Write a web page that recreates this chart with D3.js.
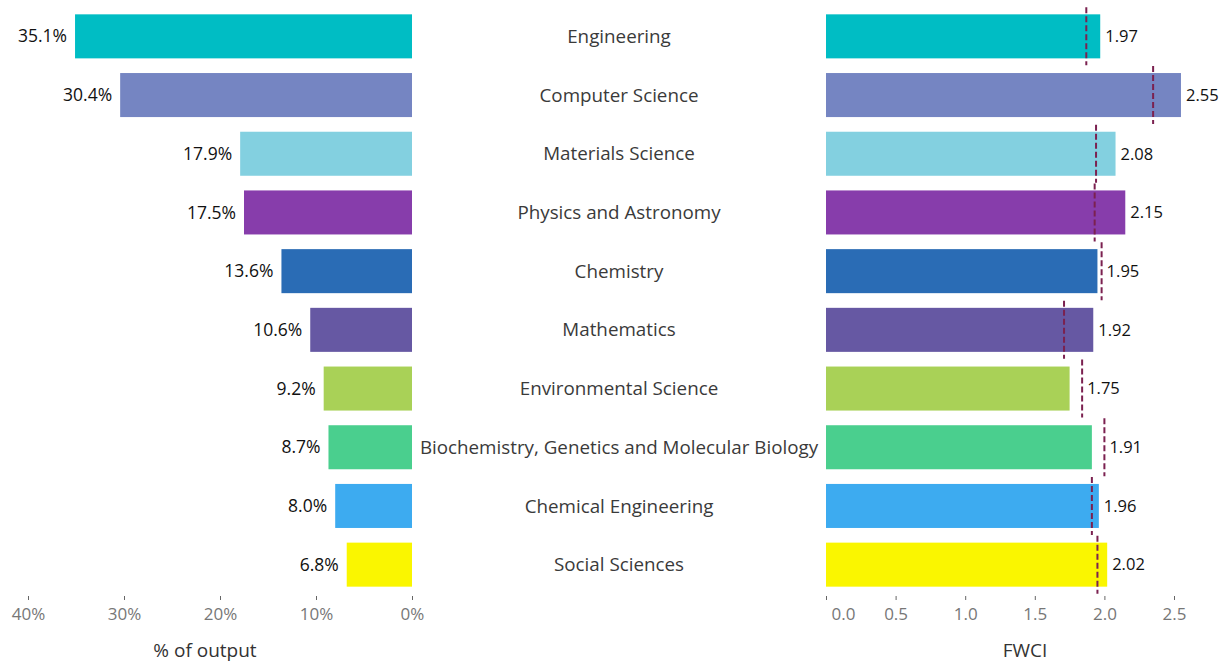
<!DOCTYPE html>
<html>
<head>
<meta charset="utf-8">
<script src="https://cdn.jsdelivr.net/npm/d3@7"></script>
<style>
  body { margin: 0; background: #fff; }
  svg text { font-family: "Open Sans", Lato, sans-serif; }
</style>
</head>
<body>
<div id="chart"></div>
<script>
// data
const categories = ["Engineering", "Computer Science", "Materials Science", "Physics and Astronomy",
  "Chemistry", "Mathematics", "Environmental Science",
  "Biochemistry, Genetics and Molecular Biology", "Chemical Engineering", "Social Sciences"];
const shareOfOutput = [35.1, 30.4, 17.9, 17.5, 13.6, 10.6, 9.2, 8.7, 8.0, 6.8];
const fwci = [1.97, 2.55, 2.08, 2.15, 1.95, 1.92, 1.75, 1.91, 1.96, 2.02];
const benchmark = [1.87, 2.35, 1.94, 1.93, 1.98, 1.71, 1.84, 2.00, 1.91, 1.95];
const colors = ["#00bdc4", "#7585c2", "#83d0e0", "#873dab", "#2a6cb5", "#6658a3",
  "#a9d157", "#4acf8e", "#3dabf0", "#faf600"];
const shareTicks = [0, 10, 20, 30, 40];
const fwciTicks = [0, 0.5, 1, 1.5, 2, 2.5];

const width = 1224, height = 664;

const svg = d3.select("#chart").append("svg")
    .attr("width", width)
    .attr("height", height);

//----------------------------SCALES----------------------------//
const y = d3.scaleBand().domain(categories).range([7, 594]).paddingInner(0.25).paddingOuter(0.125);
const xLeft = d3.scaleLinear().domain([0, 40]).range([412, 28]);
const xRight = d3.scaleLinear().domain([0, 2.5]).range([826, 1174]);

const rows = categories.map(function(c, i) {
    return { cat: c, share: shareOfOutput[i], fwci: fwci[i], bench: benchmark[i], color: colors[i] };
});

//-----------------------------LEFT BARS------------------------//
svg.append("g").selectAll("rect")
    .data(rows).enter().append("rect")
    .attr("x", d => xLeft(d.share))
    .attr("y", d => y(d.cat))
    .attr("width", d => xLeft(0) - xLeft(d.share))
    .attr("height", y.bandwidth())
    .attr("fill", d => d.color);

svg.append("g").selectAll("text")
    .data(rows).enter().append("text")
    .attr("x", d => xLeft(d.share) - 8)
    .attr("y", d => y(d.cat) + y.bandwidth() / 2)
    .attr("dy", "0.35em")
    .attr("text-anchor", "end")
    .attr("font-size", 17.5)
    .attr("fill", "#111")
    .text(d => d.share.toFixed(1) + "%");

//----------------------------CATEGORIES------------------------//
svg.append("g").selectAll("text")
    .data(rows).enter().append("text")
    .attr("x", 619)
    .attr("y", d => y(d.cat) + y.bandwidth() / 2)
    .attr("dy", "0.35em")
    .attr("text-anchor", "middle")
    .attr("font-size", 18.8)
    .attr("fill", "#3a3a3a")
    .text(d => d.cat);

//-----------------------------RIGHT BARS-----------------------//
svg.append("g").selectAll("rect")
    .data(rows).enter().append("rect")
    .attr("x", xRight(0))
    .attr("y", d => y(d.cat))
    .attr("width", d => xRight(d.fwci) - xRight(0))
    .attr("height", y.bandwidth())
    .attr("fill", d => d.color);

svg.append("g").selectAll("line")
    .data(rows).enter().append("line")
    .attr("x1", d => xRight(d.bench))
    .attr("x2", d => xRight(d.bench))
    .attr("y1", d => y(d.cat) - 7)
    .attr("y2", d => y(d.cat) + y.bandwidth() + 7)
    .attr("stroke", "#7b2150")
    .attr("stroke-width", 2)
    .attr("stroke-dasharray", "6,3");

svg.append("g").selectAll("text")
    .data(rows).enter().append("text")
    .attr("x", d => Math.max(xRight(d.fwci), xRight(d.bench)) + 5)
    .attr("y", d => y(d.cat) + y.bandwidth() / 2)
    .attr("dy", "0.35em")
    .attr("font-size", 16.5)
    .attr("fill", "#111")
    .text(d => d.fwci.toFixed(2));

//-----------------------------AXES-----------------------------//
const leftAxis = svg.append("g")
    .attr("transform", "translate(0,596)")
    .call(d3.axisBottom(xLeft).tickValues(shareTicks).tickSize(4).tickPadding(8)
        .tickFormat(d => d + "%"));

const rightAxis = svg.append("g")
    .attr("transform", "translate(0,596)")
    .call(d3.axisBottom(xRight).tickValues(fwciTicks).tickSize(4).tickPadding(8)
        .tickFormat(d3.format(".1f")));

[leftAxis, rightAxis].forEach(function(a) {
    a.select(".domain").remove();
    a.selectAll(".tick line").attr("stroke", "#666");
    a.selectAll(".tick text")
        .attr("font-size", 17)
        .attr("font-family", "\"Open Sans\", Lato, sans-serif")
        .attr("fill", "#777");
});
// first FWCI label sits a bit right of its tick
rightAxis.selectAll(".tick text").filter(d => d === 0).attr("dx", 17);

svg.append("text")
    .attr("x", 205).attr("y", 650)
    .attr("dy", "0.35em")
    .attr("text-anchor", "middle")
    .attr("font-size", 19)
    .attr("fill", "#333")
    .text("% of output");

svg.append("text")
    .attr("x", 1025).attr("y", 650)
    .attr("dy", "0.35em")
    .attr("text-anchor", "middle")
    .attr("font-size", 19)
    .attr("fill", "#333")
    .text("FWCI");
</script>
</body>
</html>
